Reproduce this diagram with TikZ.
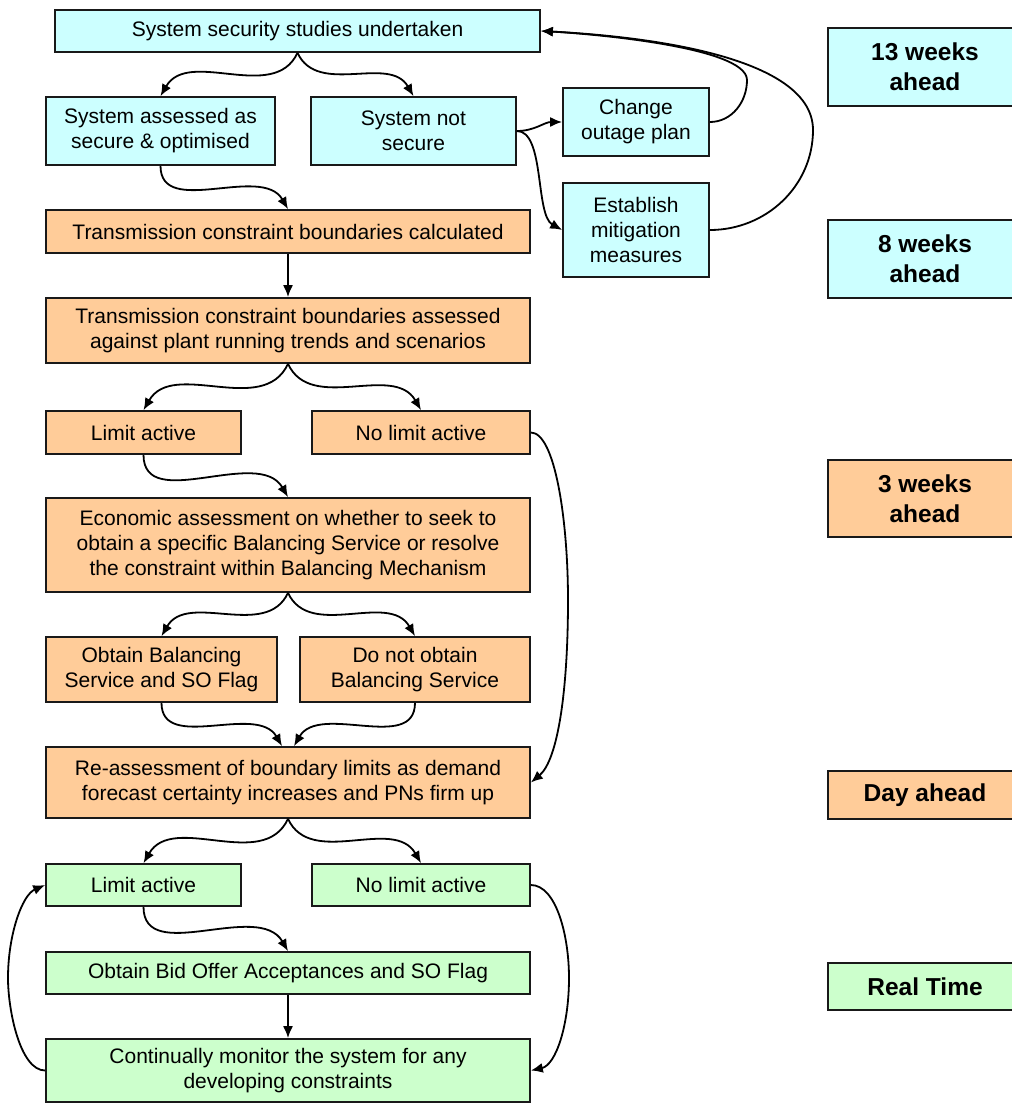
\documentclass[tikz,border=0pt]{standalone}
\usepackage{fontspec}
\setmainfont{Liberation Sans}
\usetikzlibrary{arrows.meta}
\definecolor{cyb}{HTML}{CCFFFF}
\definecolor{orb}{HTML}{FFCC99}
\definecolor{grb}{HTML}{CCFFCC}
\begin{document}
\begin{tikzpicture}[x=1pt,y=1pt,
 box/.style={draw=black!90, line width=1.7pt, inner sep=0pt, align=center, font=\fontsize{21}{25}\selectfont},
 lbl/.style={box, minimum width=194pt, font=\bfseries\fontsize{24.5}{30}\selectfont},
 arr/.style={line width=1.8pt, -{Latex[length=12pt,width=10pt]}},
]
\useasboundingbox (0,0) rectangle (1012,-1104);
\clip (0,0) rectangle (1012,-1104);

% left column
\node[box, fill=cyb, minimum width=485pt, minimum height=42pt] (top) at (297.5,-31) {System security studies undertaken};
\node[box, fill=cyb, minimum width=229pt, minimum height=68pt] (sec) at (160.5,-131) {System assessed as\\secure \& optimised};
\node[box, fill=cyb, minimum width=205pt, minimum height=68pt] (notsec) at (413.5,-131) {System not\\secure};
\node[box, fill=cyb, minimum width=146pt, minimum height=68pt] (chg) at (636,-122) {Change\\outage plan};
\node[box, fill=cyb, minimum width=146pt, minimum height=94pt] (est) at (636,-230) {Establish\\mitigation\\measures};
\node[box, fill=orb, minimum width=484pt, minimum height=43pt] (tcb) at (288,-231.5) {Transmission constraint boundaries calculated};
\node[box, fill=orb, minimum width=484pt, minimum height=65pt] (tcba) at (288,-330.5) {Transmission constraint boundaries assessed\\against plant running trends and scenarios};
\node[box, fill=orb, minimum width=195pt, minimum height=43pt] (la1) at (143.5,-432.5) {Limit active};
\node[box, fill=orb, minimum width=218pt, minimum height=43pt] (nla1) at (421,-432.5) {No limit active};
\node[box, fill=orb, minimum width=484pt, minimum height=94pt] (econ) at (288,-545) {Economic assessment on whether to seek to\\obtain a specific Balancing Service or resolve\\the constraint within Balancing Mechanism};
\node[box, fill=orb, minimum width=231pt, minimum height=65pt] (obs) at (161.5,-669.5) {Obtain Balancing\\Service and SO Flag};
\node[box, fill=orb, minimum width=230pt, minimum height=65pt] (dno) at (415,-669.5) {Do not obtain\\Balancing Service};
\node[box, fill=orb, minimum width=484pt, minimum height=71pt] (reas) at (288,-782.5) {Re-assessment of boundary limits as demand\\forecast certainty increases and PNs firm up};
\node[box, fill=grb, minimum width=195pt, minimum height=42pt] (la2) at (143.5,-885) {Limit active};
\node[box, fill=grb, minimum width=218pt, minimum height=42pt] (nla2) at (421,-885) {No limit active};
\node[box, fill=grb, minimum width=484pt, minimum height=42pt] (bid) at (288,-973) {Obtain Bid Offer Acceptances and SO Flag};
\node[box, fill=grb, minimum width=484pt, minimum height=63pt] (mon) at (288,-1070.5) {Continually monitor the system for any\\developing constraints};

% right labels
\node[lbl, fill=cyb, minimum height=78pt] (w13) at (925,-67) {13 weeks\\ahead};
\node[lbl, fill=cyb, minimum height=78pt] (w8) at (925,-259) {8 weeks\\ahead};
\node[lbl, fill=orb, minimum height=77pt] (w3) at (925,-498.5) {3 weeks\\ahead};
\node[lbl, fill=orb, minimum height=48pt] (day) at (925,-795) {Day ahead};
\node[lbl, fill=grb, minimum height=47pt] (rt) at (925,-986.5) {Real Time};

% connectors
\draw[arr] (top.south) to[out=-115,in=60] (sec.north);
\draw[arr] (top.south) to[out=-65,in=120] (notsec.north);
\draw[arr] (sec.south) to[out=-90,in=120] (tcb.north);
\draw[arr] (notsec.east) to[out=0,in=180] (chg.west);
\draw[arr] (notsec.east) .. controls (545,-131) and (535,-215) .. (est.west);
\coordinate (c1) at (747,-80);
\coordinate (c2) at (813,-130);
\draw[arr] (chg.east) to[out=0,in=-90] (c1) to[out=90,in=-3,looseness=0.42] (top.east);
\draw[arr] (est.east) to[out=0,in=-90] (c2) to[out=90,in=-3,looseness=0.7] (top.east);
\draw[arr] (tcb.south) -- (tcba.north);
\draw[arr] (tcba.south) to[out=-115,in=60] (la1.north);
\draw[arr] (tcba.south) to[out=-65,in=120] (nla1.north);
\draw[arr] (la1.south) to[out=-90,in=120] (econ.north);
\coordinate (c3) at (568,-600);
\draw[arr] (nla1.east) .. controls (555,-432.5) and (568,-520) .. (c3) .. controls (568,-690) and (558,-760) .. (reas.east);
\draw[arr] (econ.south) to[out=-115,in=60] (obs.north);
\draw[arr] (econ.south) to[out=-65,in=120] (dno.north);
\draw[arr] (obs.south) to[out=-90,in=120] ([xshift=-6pt]reas.north);
\draw[arr] (dno.south) to[out=-90,in=60] ([xshift=6pt]reas.north);
\draw[arr] (reas.south) to[out=-115,in=60] (la2.north);
\draw[arr] (reas.south) to[out=-65,in=120] (nla2.north);
\draw[arr] (la2.south) to[out=-90,in=120] (bid.north);
\draw[arr] (bid.south) -- (mon.north);
\coordinate (c4) at (8,-978);
\coordinate (c5) at (569,-978);
\draw[arr] (mon.west) .. controls (20,-1070.5) and (8,-1010) .. (c4) .. controls (8,-935) and (22,-895) .. (la2.west);
\draw[arr] (nla2.east) .. controls (556,-885) and (569,-935) .. (c5) .. controls (569,-1025) and (556,-1065) .. (mon.east);
\end{tikzpicture}
\end{document}
